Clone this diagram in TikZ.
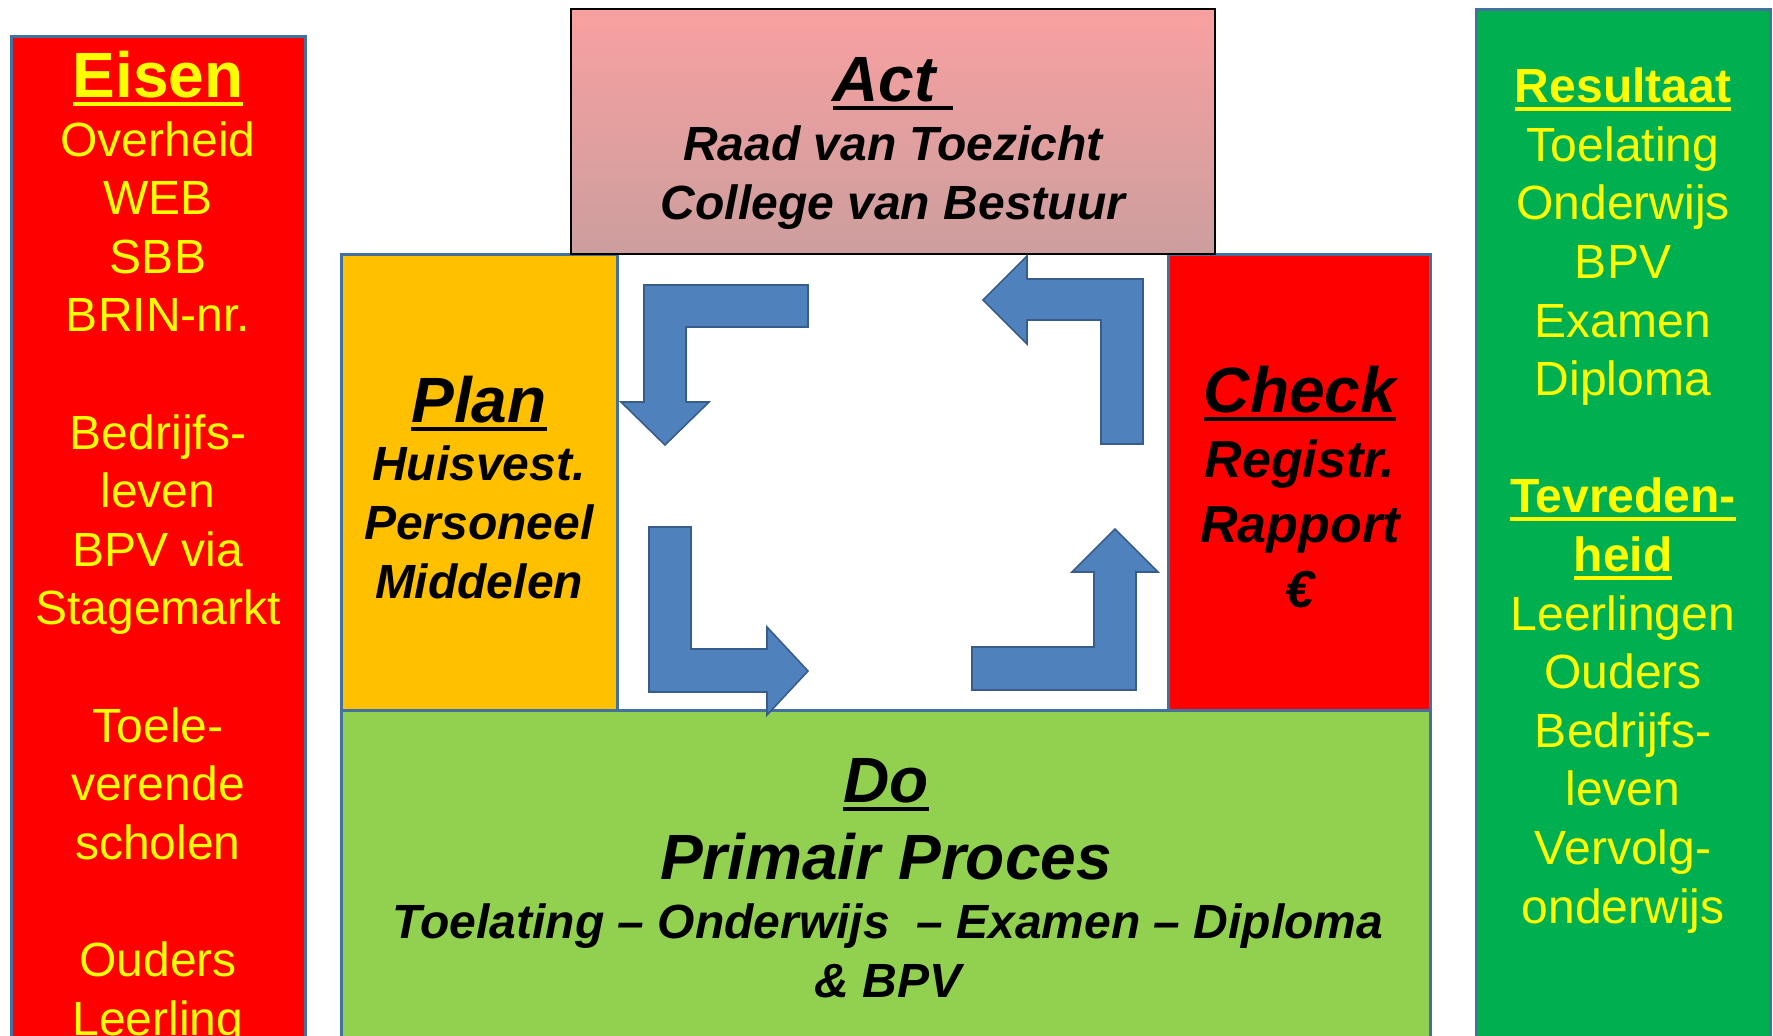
\documentclass[tikz,border=0pt]{standalone}
\usepackage{fontspec}
\setmainfont{Liberation Sans}
\definecolor{boxline}{HTML}{41719C}
\definecolor{arrowfill}{HTML}{4F81BD}
\definecolor{arrowline}{HTML}{385D8A}
\definecolor{eisenred}{HTML}{FF0000}
\definecolor{plangold}{HTML}{FFC000}
\definecolor{dogreen}{HTML}{92D050}
\definecolor{resgreen}{HTML}{00B050}
\definecolor{acttop}{HTML}{F9A0A0}
\definecolor{actbottom}{HTML}{CC9E9E}
\definecolor{textyellow}{HTML}{FFFF00}
\newsavebox\hdbox
\newcommand\hdline[1]{\sbox\hdbox{#1}\rlap{\rule[-4.3pt]{\wd\hdbox}{2pt}}\usebox\hdbox}
\tikzset{
  sidetext/.style={text=textyellow, align=center, anchor=base, inner sep=0pt,
    font=\fontsize{24}{29.3}\selectfont},
  pdcatext/.style={align=center, anchor=base, inner sep=0pt,
    font=\fontsize{24}{29.3}\selectfont\bfseries\itshape},
  pdcabox/.style={draw=boxline, line width=1.5pt},
  bentarrow/.style={fill=arrowfill, draw=arrowline, line width=0.8pt, line join=miter},
}
\begin{document}
\begin{tikzpicture}[x=0.5pt, y=-0.5pt]
\useasboundingbox (0,0) rectangle (1773,1035);
\fill[white] (0,0) rectangle (1773,1035);
% side columns (text nodes sit on the baseline of their last line)
\draw[pdcabox, fill=eisenred] (11,36) rectangle (305,1060);
\draw[pdcabox, fill=resgreen] (1476,9) rectangle (1770,1060);
\node[sidetext] (eisen) at (158,1035) {{\fontsize{32}{32}\selectfont\bfseries\hdline{Eisen}}\\
  Overheid\\ WEB\\ SBB\\ BRIN-nr.\\[29.3pt]
  Bedrijfs-\\ leven\\ BPV via\\ Stagemarkt\\[29.3pt]
  Toele-\\ verende\\ scholen\\[29.3pt]
  Ouders\\ Leerling};
\node[sidetext] (resultaat) at (1623,923) {{\bfseries\hdline{Resultaat}}\\
  Toelating\\ Onderwijs\\ BPV\\ Examen\\ Diploma\\[29.3pt]
  {\bfseries\hdline{Tevreden-}}\\ {\bfseries\hdline{heid}}\\
  Leerlingen\\ Ouders\\ Bedrijfs-\\ leven\\ Vervolg-\\ onderwijs};
% plan, check, do
\draw[pdcabox, fill=plangold] (341,254) rectangle (617,710);
\draw[pdcabox, fill=eisenred] (1168,254) rectangle (1430,710);
\draw[pdcabox, fill=dogreen] (341,710) rectangle (1430,1060);
\node[pdcatext] (plan) at (479,598) {{\fontsize{32}{32}\selectfont\hdline{Plan}}\\
  Huisvest.\\ Personeel\\ Middelen};
\node[pdcatext, font=\fontsize{26}{32.5}\selectfont\bfseries\itshape] (check) at (1300,607)
  {{\fontsize{32}{32}\selectfont\hdline{Check}}\\ Registr.\\ Rapport\\ €};
\node[pdcatext, font=\fontsize{32}{32}\selectfont\bfseries\itshape] (dohead) at (886,802) {\hdline{Do}};
\node[pdcatext, font=\fontsize{32}{32}\selectfont\bfseries\itshape] (doproc) at (886,879) {Primair Proces};
\node[pdcatext] (dotext) at (888,997) {Toelating – Onderwijs\ \ – Examen – Diploma\\ \& BPV};
% act
\draw[black, line width=1pt, top color=acttop, bottom color=actbottom] (571,9) rectangle (1215,254);
\node[pdcatext] (act) at (893,219) {{\fontsize{32}{32}\selectfont\hdline{Act\ }}\\
  Raad van Toezicht\\ College van Bestuur};
% cycle arrows
\draw[bentarrow] (808,285) -- (644,285) -- (644,402) -- (621,402) -- (665,445)
  -- (709,402) -- (686,402) -- (686,327) -- (808,327) -- cycle;
\draw[bentarrow] (649,527) -- (649,692) -- (767,692) -- (767,715) -- (808,671)
  -- (767,627) -- (767,649) -- (691,649) -- (691,527) -- cycle;
\draw[bentarrow] (972,647) -- (972,690) -- (1136,690) -- (1136,572) -- (1158,572)
  -- (1115,529) -- (1072,572) -- (1094,572) -- (1094,647) -- cycle;
\draw[bentarrow] (1143,444) -- (1143,279) -- (1027,279) -- (1027,256) -- (983,300)
  -- (1027,344) -- (1027,320) -- (1101,320) -- (1101,444) -- cycle;
\end{tikzpicture}
\end{document}
